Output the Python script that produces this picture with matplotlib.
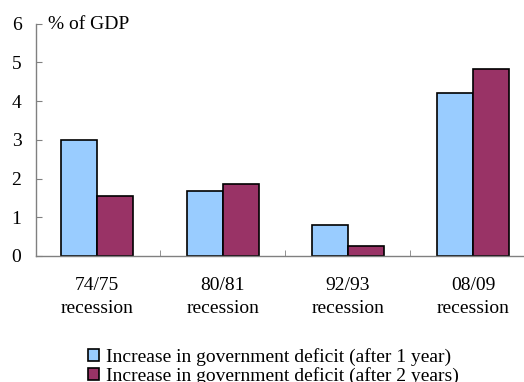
import matplotlib
matplotlib.use("Agg")
import matplotlib.pyplot as plt
import numpy as np

plt.rcParams['font.family'] = ['Liberation Serif', 'DejaVu Serif']

categories = ["74/75\nrecession", "80/81\nrecession", "92/93\nrecession", "08/09\nrecession"]
after_1_year = [3.0, 1.68, 0.80, 4.21]
after_2_years = [1.55, 1.87, 0.26, 4.82]
series_labels = ["Increase in government deficit (after 1 year)",
                 "Increase in government deficit (after 2 years)"]
yticks = [0, 1, 2, 3, 4, 5, 6]

FS = 14
fig = plt.figure(figsize=(5.24, 3.82), dpi=100)
W, H = 524, 382
ax_left, ax_right, ax_bottom, ax_top = 36, 524, 256, 23.5
ax = fig.add_axes([ax_left / W, 1 - ax_bottom / H, (ax_right - ax_left) / W, (ax_bottom - ax_top) / H])

x = np.arange(len(categories))
bw = 36 / 125.3
ax.bar(x - bw / 2, after_1_year, bw, color='#99ccff', edgecolor='black', linewidth=1.2, label=series_labels[0])
ax.bar(x + bw / 2, after_2_years, bw, color='#993366', edgecolor='black', linewidth=1.2, label=series_labels[1])

ax.set_ylim(0, 6)
ax.set_xlim(-0.49, 3 + (524 - 473) / 125.3)
ax.set_yticks(yticks)
ax.set_yticklabels([str(t) for t in yticks], fontsize=FS)
ax.tick_params(axis='y', direction='in', length=4, pad=10.5, color='#808080')

ax.set_xticks(x)
ax.set_xticklabels(categories, fontsize=FS, linespacing=1.45)
ax.tick_params(axis='x', length=0, pad=15)
ax.set_xticks(x[:-1] + 0.5, minor=True)
ax.tick_params(axis='x', which='minor', direction='in', length=4, color='#808080')

for s in ['top', 'right']:
    ax.spines[s].set_visible(False)
for s in ['left', 'bottom']:
    ax.spines[s].set_color('#808080')
    ax.spines[s].set_linewidth(1.0)

ax.text(48 / W, 1 - 29 / H, "% of GDP", transform=fig.transFigure, fontsize=FS, va='baseline', ha='left')

fig.legend(loc='upper left', bbox_to_anchor=(88 / W, 1 - 348 / H), frameon=False,
           fontsize=FS, handlelength=0.55, handleheight=0.55, handletextpad=0.4,
           labelspacing=0.05, borderpad=0, borderaxespad=0)

fig.savefig("out.png", dpi=100)
